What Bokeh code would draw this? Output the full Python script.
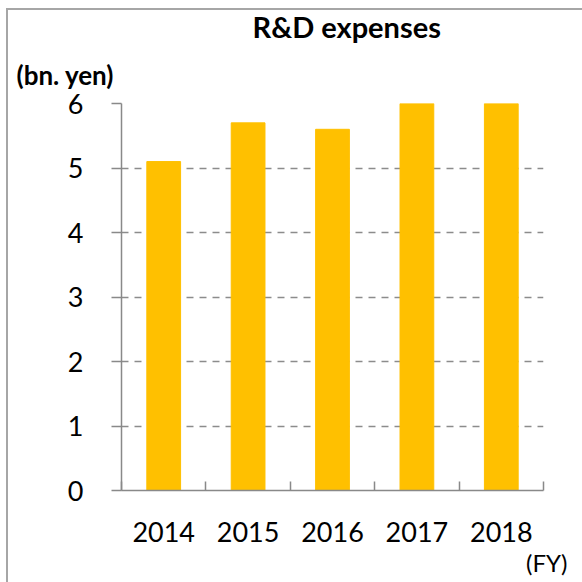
import numpy as np
from bokeh.plotting import figure
from bokeh.models import Range1d, FixedTicker, Title
from bokeh.embed import file_html
from bokeh.resources import INLINE

years = ["2014", "2015", "2016", "2017", "2018"]
values = [5.1, 5.7, 5.6, 6.0, 6.0]
y_ticks = [0, 1, 2, 3, 4, 5, 6]

FONT = "Lato"
AXIS_COLOR = "#898989"
BAR_COLOR = "#FFC000"

xs = np.arange(len(years)) + 0.5

p = figure(width=582, height=582, output_backend="svg", toolbar_location=None,
           x_range=Range1d(0, len(years)), y_range=Range1d(0, 6),
           min_border_left=121, min_border_right=39, min_border_top=103, min_border_bottom=92)
p.outline_line_color = None
p.background_fill_color = "white"
p.border_fill_alpha = 0
p.styles = {"background-color": "white",
            "box-shadow": "inset 6px 8px 0px 0px white, inset 8px 10px 0px 0px #a6a6a6"}

p.vbar(x=xs, top=values, width=0.4, color=BAR_COLOR)

# x axis
xa = p.xaxis[0]
xa.ticker = FixedTicker(ticks=list(xs), minor_ticks=list(range(len(years) + 1)))
xa.major_label_overrides = {float(x): y for x, y in zip(xs, years)}
xa.major_tick_in = 0
xa.major_tick_out = 0
xa.minor_tick_in = 9
xa.minor_tick_out = 0
xa.minor_tick_line_color = AXIS_COLOR
xa.minor_tick_line_width = 1.5
xa.axis_line_color = AXIS_COLOR
xa.axis_line_width = 1.5
xa.major_label_text_font = FONT
xa.major_label_text_font_size = "27px"
xa.major_label_text_color = "black"
xa.major_label_standoff = 31

# y axis
ya = p.yaxis[0]
ya.ticker = FixedTicker(ticks=y_ticks)
ya.major_tick_in = 0
ya.major_tick_out = 10
ya.major_tick_line_color = AXIS_COLOR
ya.major_tick_line_width = 1.5
ya.minor_tick_line_color = None
ya.axis_line_color = AXIS_COLOR
ya.axis_line_width = 1.5
ya.major_label_text_font = FONT
ya.major_label_text_font_size = "27px"
ya.major_label_text_color = "black"
ya.major_label_standoff = 28

p.xgrid.grid_line_color = None
p.ygrid.grid_line_color = "#8c8c8c"
p.ygrid.grid_line_width = 1.5
p.ygrid.grid_line_dash = "7 6"

p.add_layout(Title(text="(bn. yen)", align="left", offset=-105, standoff=26,
                   text_font=FONT, text_font_style="bold", text_font_size="26px",
                   text_color="black"), "above")
p.add_layout(Title(text="R&D expenses", align="left", offset=131, standoff=0,
                   text_font=FONT, text_font_style="bold", text_font_size="29px",
                   text_color="black"), "above")
p.add_layout(Title(text="(FY)", align="right", offset=-24, standoff=3,
                   text_font=FONT, text_font_style="normal", text_font_size="24px",
                   text_color="black"), "below")

open("out.html", "w").write(file_html(p, INLINE))
